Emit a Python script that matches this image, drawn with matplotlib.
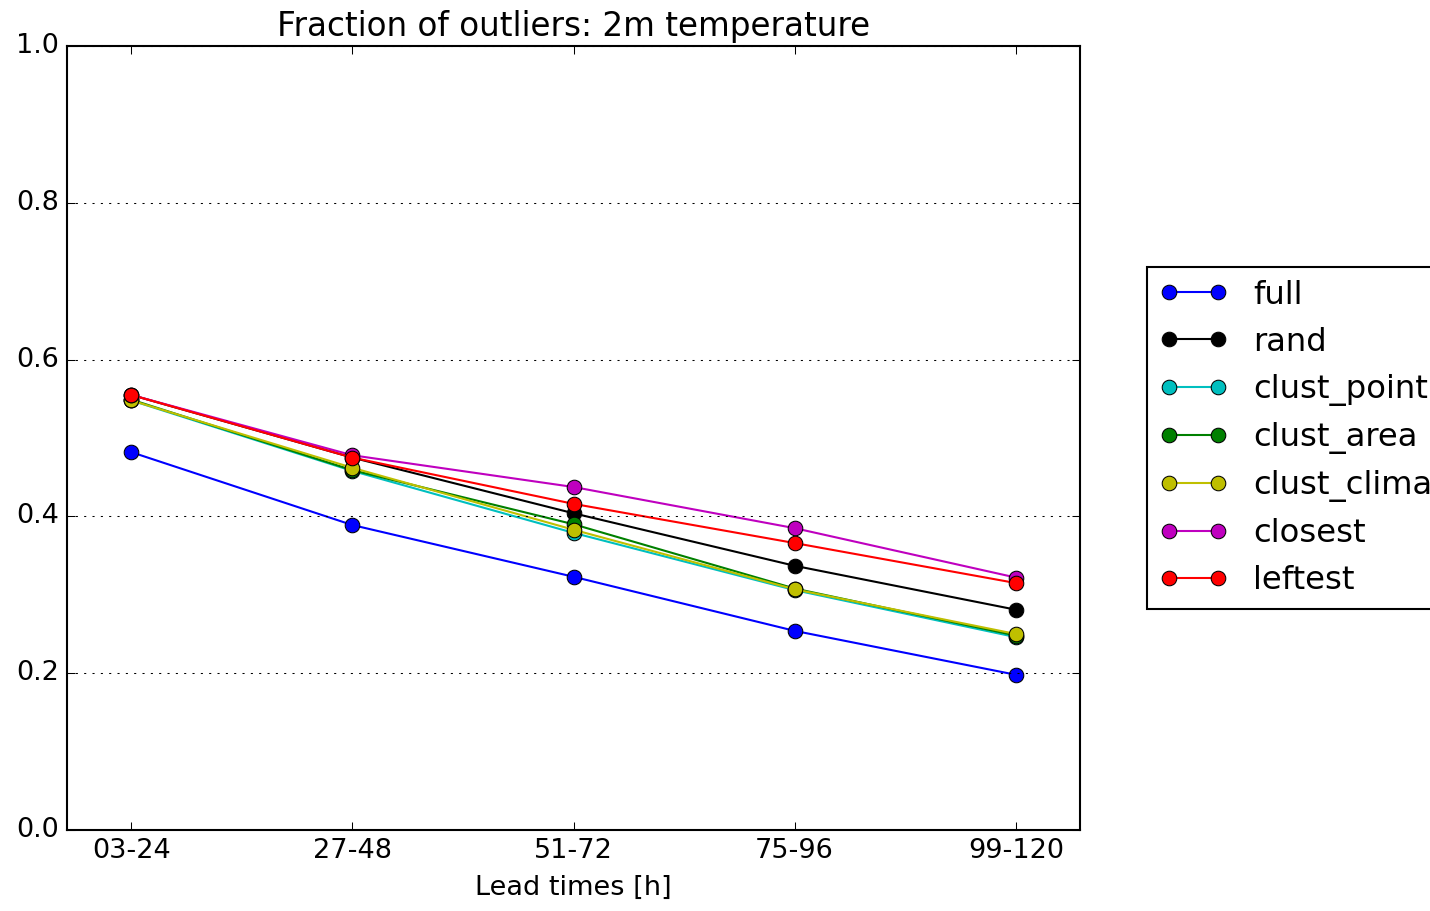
import matplotlib
matplotlib.use("Agg")
import matplotlib.pyplot as plt

plt.style.use("classic")

categories = ["03-24", "27-48", "51-72", "75-96", "99-120"]
series_names = ["full", "rand", "clust_point", "clust_area", "clust_climate", "closest", "leftest"]
full = [0.482, 0.389, 0.323, 0.254, 0.198]
rand = [0.555, 0.475, 0.404, 0.337, 0.281]
clust_point = [0.548, 0.458, 0.379, 0.306, 0.246]
clust_area = [0.549, 0.459, 0.390, 0.308, 0.248]
clust_climate = [0.548, 0.462, 0.383, 0.307, 0.250]
closest = [0.555, 0.478, 0.4375, 0.385, 0.322]
leftest = [0.555, 0.475, 0.416, 0.366, 0.315]
colors = ["b", "k", "c", "g", "y", "m", "r"]

values = [full, rand, clust_point, clust_area, clust_climate, closest, leftest]

fig = plt.figure(figsize=(1430 / 150, 911 / 150), dpi=150, facecolor="white")
ax = fig.add_axes([67 / 1430, 81 / 911, (1080 - 67) / 1430, (830 - 46) / 911])

x = list(range(len(categories)))
for name, vals, c in zip(series_names, values, colors):
    ax.plot(x, vals, "-o", color=c, label=name, markersize=7, linewidth=1.0)

ax.set_xlim(-0.29, 4.29)
ax.set_ylim(0.0, 1.0)
ax.set_xticks(x)
ax.set_xticklabels(categories)
ax.set_yticks([0.0, 0.2, 0.4, 0.6, 0.8, 1.0])
ax.tick_params(labelsize=13)
ax.yaxis.grid(True, linestyle=":", color="k")
ax.set_xlabel("Lead times [h]", fontsize=13)
ax.set_title("Fraction of outliers: 2m temperature", fontsize=15.7)
ax.legend(loc="center left", bbox_to_anchor=(1.066, 0.5), borderaxespad=0,
          numpoints=2, prop={"size": 15.5}, labelspacing=0.5, handlelength=2.1)

fig.savefig("out.png", dpi=150, facecolor="white")
